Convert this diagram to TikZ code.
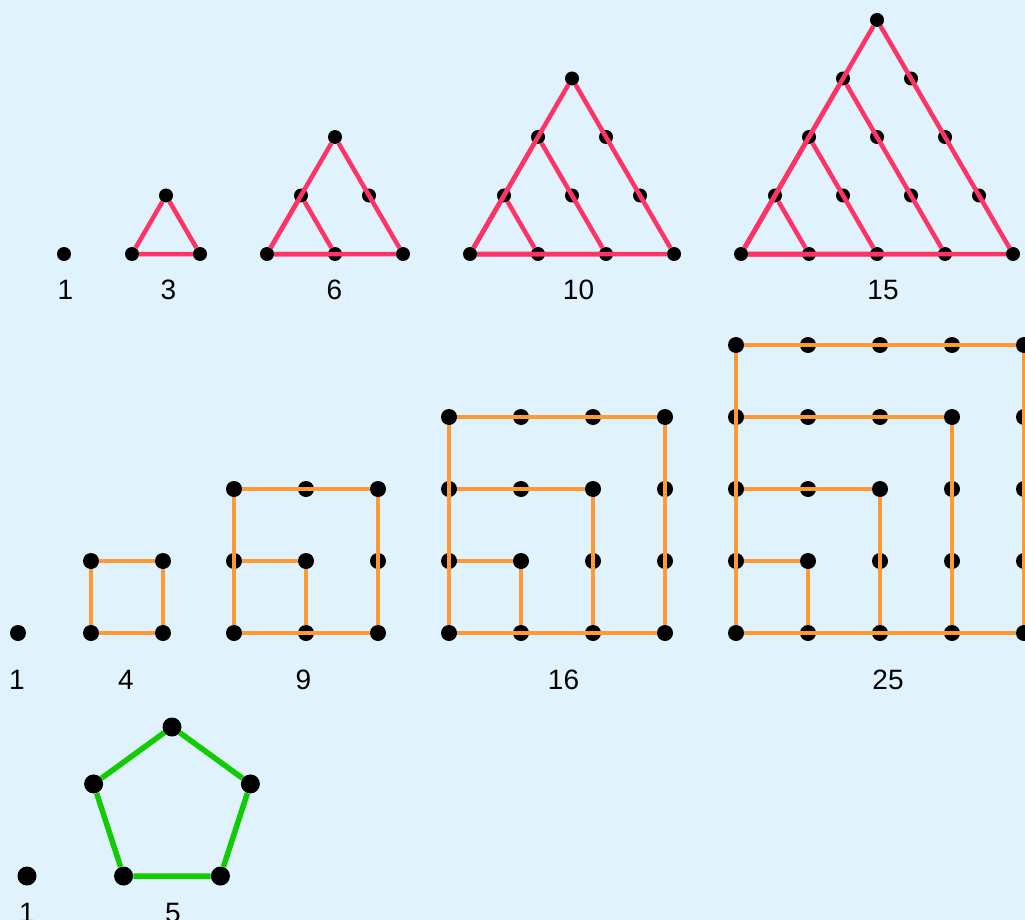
\documentclass[tikz,border=0pt]{standalone}
\usepackage{fontspec}
\setmainfont{Liberation Sans}
\usepackage{tikz}
\usetikzlibrary{positioning}
\definecolor{skyback}{RGB}{224,242,252}
\definecolor{trired}{RGB}{255,51,102}
\definecolor{sqorange}{RGB}{255,153,51}
\definecolor{pentgreen}{RGB}{17,204,0}

\begin{document}
\begin{tikzpicture}[x=1pt, y=-1pt,
  tdot/.style={circle, fill=black, inner sep=0pt, minimum size=14pt},
  sdot/.style={circle, fill=black, inner sep=0pt, minimum size=16pt},
  pdot/.style={circle, fill=black, inner sep=0pt, minimum size=19pt},
  tline/.style={draw=trired, line width=4.5pt, line join=round},
  sline/.style={draw=sqorange, line width=4.5pt, line join=round},
  pline/.style={draw=pentgreen, line width=5.5pt, line join=round},
  num/.style={font=\fontsize{28}{30}\selectfont, inner sep=0pt}
]
  \fill[skyback] (0,0) rectangle (1025,920);
  \useasboundingbox (0,0) rectangle (1025,920);

  \node[tdot] (t1) at (64,254) {};
  \node[num] (tl1) at (65.5,290) {1};
  \foreach \k/\bx/\val/\lx in {2/132/3/168.5, 3/267/6/334.5, 4/470/10/578.5, 5/741/15/883} {
    \pgfmathtruncatemacro{\kmax}{\k-1}
    \foreach \r in {0,...,\kmax} {
      \pgfmathtruncatemacro{\ilast}{\k-1-\r}
      \foreach \i in {0,...,\ilast}
        \node[tdot] (t\k-\r-\i) at ({\bx+68*\i+34*\r},{254-58.5*\r}) {};
    }
    \foreach \j in {1,...,\kmax}
      \draw[tline] (t\k-0-0) -- (t\k-0-\j) -- (t\k-\j-0) -- (t\k-0-0);
    \node[num] (tl\k) at (\lx,290) {\val};
  }

  \node[sdot] (s1) at (18,633) {};
  \node[num] (sl1) at (17,680) {1};
  \foreach \k/\bx/\val/\lx in {2/91/4/126, 3/234/9/303.5, 4/449/16/563.5, 5/736/25/888} {
    \pgfmathtruncatemacro{\kmax}{\k-1}
    \foreach \i in {0,...,\kmax}
      \foreach \j in {0,...,\kmax}
        \node[sdot] (s\k-\i-\j) at ({\bx+72*\i},{633-72*\j}) {};
    \draw[sline] (s\k-0-\kmax) -- (s\k-0-0) -- (s\k-\kmax-0);
    \foreach \j in {1,...,\kmax}
      \draw[sline] (s\k-0-\j) -- (s\k-\j-\j) -- (s\k-\j-0);
    \node[num] (sl\k) at (\lx,680) {\val};
  }

  \node[pdot] (p1) at (27,876) {};
  \node[num] (pl1) at (27,913) {1};
  \foreach \i in {0,...,4}
    \node[pdot] (p5-\i) at ({172+82.4*cos(90+72*\i)},{809.4-82.4*sin(90+72*\i)}) {};
  \draw[pline] (p5-0) -- (p5-1) -- (p5-2) -- (p5-3) -- (p5-4) -- (p5-0);
  \node[num] (pl5) at (173,913) {5};
\end{tikzpicture}
\end{document}
